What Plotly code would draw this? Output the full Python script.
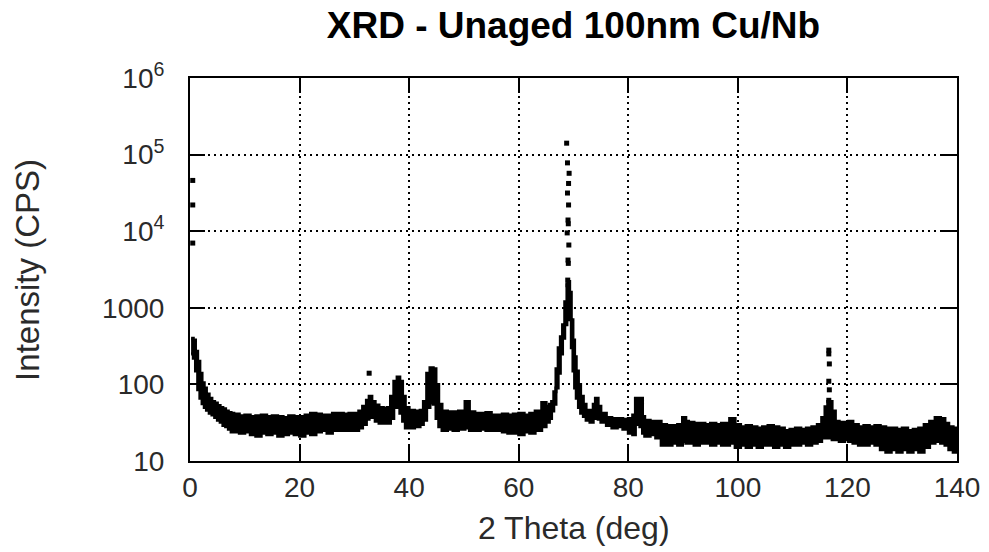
import plotly.graph_objects as go

# Band of the measured scan: 2-theta (deg), lower and upper edge of the noisy trace (CPS)
two_theta = [0.2, 0.6, 1.0, 1.4, 1.8, 2.2, 2.6, 3.0, 3.5, 4.0, 4.5, 5.0, 5.5, 6.0, 6.5, 7.0, 7.5, 8.0,
             9, 10, 11, 12, 13, 14, 15, 16, 17, 18, 19, 20, 21, 22, 23, 24, 25, 26, 27, 28, 29, 30,
             30.8, 31.5, 32.2, 32.7, 33.2, 33.8, 34.5, 35.3, 36.0, 36.6, 37.2, 37.8, 38.3, 38.8, 39.3,
             40, 41, 42, 42.6, 43.2, 43.8, 44.4, 44.9, 45.4, 46, 47, 48, 49, 50.2, 51, 52, 53, 54, 55,
             56, 57, 58, 59, 60, 61, 62, 63, 64.2, 65, 65.6, 66.0, 66.4, 66.8, 67.2, 67.6, 68.0, 68.4,
             68.8, 69.0, 69.3, 69.6, 69.9, 70.2, 70.5, 70.9, 71.3, 71.8, 72.3, 73.0, 73.6, 74.0, 74.5,
             75, 76, 77, 78, 79, 80, 80.8, 81.3, 82.1, 82.6, 83, 84, 85, 86, 87, 88, 89, 89.9, 90.5,
             91, 92, 93, 94, 95, 96, 97, 98.5, 99.5, 100.5, 101.5, 102.5, 103.5, 104.5, 105.5, 106.5,
             107.5, 108.5, 109.5, 110.5, 111.5, 112.5, 113.5, 114.5, 115.3, 115.9, 116.4, 117.2, 117.8,
             118.5, 119.5, 120.2, 121, 122, 123, 124, 125, 126, 127, 128, 129, 130, 131, 132, 133, 134,
             135, 136, 137, 137.8, 138.5, 139.3, 140]
intensity_low = [250, 220, 150, 85, 66, 56, 50, 46, 42, 40, 37, 34, 32, 29, 28, 26, 24, 24,
                 23, 24, 22, 21, 23, 22, 23, 21, 22, 23, 22, 21, 23, 22, 24, 25, 23, 25, 25, 25, 25, 25,
                 27, 30, 35, 40, 37, 33, 31, 31, 31, 36, 50, 57, 42, 33, 27,
                 27, 28, 30, 34, 50, 57, 55, 36, 28, 25, 26, 25, 26, 27, 25, 25, 26, 25, 25,
                 25, 24, 23, 23, 22, 24, 23, 25, 28, 32, 36, 45, 55, 90, 140, 250, 400, 600,
                 1000, 1200, 700, 300, 150, 90, 66, 50, 42, 38, 34, 32, 36, 40, 35,
                 32, 29, 27, 28, 26, 23, 22, 30, 28, 23, 21, 22, 20, 16, 16, 17, 16, 18, 17,
                 17, 16, 17, 17, 16, 17, 16, 17, 15, 16, 15, 16, 15, 16, 16, 15,
                 16, 15, 16, 16, 17, 16, 17, 18, 20, 22, 20, 19, 19,
                 18, 19, 18, 17, 16, 16, 17, 16, 14, 13, 14, 13, 14, 13, 14, 13, 15,
                 17, 18, 17, 16, 14, 13, 14]
intensity_high = [400, 380, 270, 200, 140, 105, 90, 75, 66, 60, 57, 53, 50, 48, 45, 43, 42, 41,
                  39, 40, 38, 39, 40, 38, 39, 38, 37, 39, 38, 38, 40, 42, 41, 40, 40, 42, 42, 41, 42, 42,
                  45, 52, 62, 70, 60, 54, 50, 49, 50, 70, 110, 125, 110, 70, 50,
                  46, 45, 46, 60, 140, 165, 160, 100, 55, 45, 44, 44, 45, 60, 44, 42, 42, 43, 40,
                  40, 41, 40, 41, 42, 40, 42, 45, 58, 52, 55, 60, 80, 160, 300, 420, 600, 1200,
                  2000, 2200, 1600, 700, 380, 230, 150, 100, 70, 55, 46, 46, 55, 66, 52,
                  42, 37, 36, 36, 35, 36, 40, 66, 66, 38, 34, 33, 33, 30, 29, 29, 30, 37, 33,
                  32, 31, 31, 30, 31, 30, 31, 36, 30, 28, 29, 28, 27, 28, 29, 28,
                  27, 25, 26, 27, 26, 27, 28, 30, 37, 51, 60, 45, 33,
                  32, 31, 33, 30, 28, 29, 28, 29, 28, 27, 27, 26, 27, 25, 26, 27, 30,
                  33, 37, 36, 31, 28, 27, 26]

# Isolated high-intensity points (direct beam near 0 deg, main peak column, 116.6 deg reflection, 32.7 deg spike)
spot_theta = [0.5, 0.5, 0.5,
              32.7,
              68.75, 68.9, 69.2, 69.1, 68.9, 69.1, 69.0, 69.05, 68.85, 69.15, 69.0, 69.05, 68.95, 69.0,
              116.6, 116.6, 116.7, 116.6, 116.7, 116.6]
spot_intensity = [46000, 22000, 7000,
                  140,
                  141000, 78000, 57000, 42000, 31500, 22000, 14000, 12500, 9500, 6600, 4200, 3800, 2300, 2000,
                  280, 250, 185, 110, 85, 62]

y_tick_vals = [10, 100, 1000, 1e4, 1e5, 1e6]
y_tick_text = ["10", "100", "1000", "10<sup>4</sup>", "10<sup>5</sup>", "10<sup>6</sup>"]
x_tick_vals = [0, 20, 40, 60, 80, 100, 120, 140]

FONT = "Liberation Sans, Arial, Helvetica, sans-serif"
TXT = "#2a2a2a"

fig = go.Figure()
fig.add_trace(go.Scatter(x=two_theta, y=intensity_low, mode="lines", line=dict(color="black", width=3, shape="hv"),
                         hoverinfo="skip", showlegend=False))
fig.add_trace(go.Scatter(x=two_theta, y=intensity_high, mode="lines", line=dict(color="black", width=3, shape="hv"),
                         fill="tonexty", fillcolor="black", showlegend=False))
fig.add_trace(go.Scatter(x=spot_theta, y=spot_intensity, mode="markers",
                         marker=dict(symbol="square", size=5, color="black"), showlegend=False))

axis_common = dict(showline=True, linecolor="black", linewidth=2, mirror="ticks",
                   ticks="inside", ticklen=15, tickwidth=2, tickcolor="black",
                   showgrid=True, gridcolor="black", gridwidth=2, griddash="2px,4px",
                   zeroline=False, automargin=False, tickfont=dict(family=FONT, size=28, color=TXT))

fig.update_xaxes(range=[0, 140], tickvals=x_tick_vals, ticklabelstandoff=0, **axis_common)
fig.update_yaxes(type="log", range=[1, 6], tickvals=y_tick_vals, ticktext=y_tick_text,
                 ticklabelstandoff=18, **axis_common)

fig.update_layout(
    width=981, height=544,
    margin=dict(l=182, r=32, t=70, b=91, autoexpand=False),
    paper_bgcolor="white", plot_bgcolor="white",
    title=dict(text="<b>XRD - Unaged 100nm Cu/Nb</b>", x=0.5, xref="paper", xanchor="center",
               y=1 - 17 / 544, yref="container", yanchor="middle",
               font=dict(family=FONT, size=37, color="black")),
    annotations=[
        dict(text="2 Theta (deg)", xref="paper", yref="paper", x=0.5, y=-0.175, xanchor="center", yanchor="middle",
             showarrow=False, font=dict(family=FONT, size=32, color=TXT)),
        dict(text="Intensity (CPS)", xref="paper", yref="paper", x=-0.212, y=0.5, xanchor="center", yanchor="middle",
             textangle=-90, showarrow=False, font=dict(family=FONT, size=33, color=TXT)),
    ],
)

fig.write_html("out.html")
